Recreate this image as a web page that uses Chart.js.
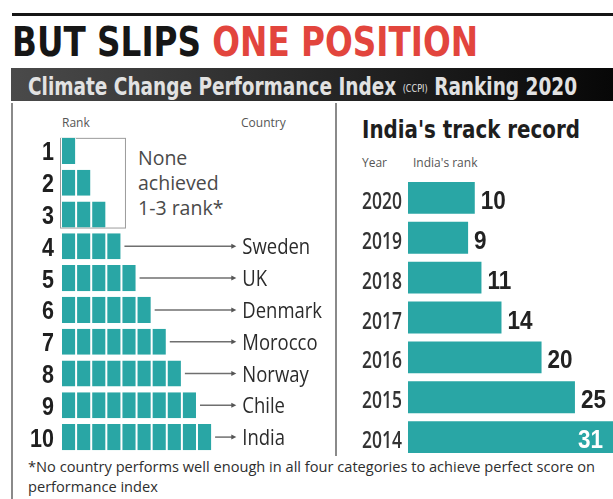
<!DOCTYPE html>
<html>
<head>
<meta charset="utf-8">
<script src="https://cdn.jsdelivr.net/npm/chart.js@4.4.0/dist/chart.umd.min.js"></script>
<style>
  html, body { margin: 0; padding: 0; background: #fff; }
  #wrap { position: relative; width: 613px; height: 499px; overflow: hidden; background: #fff; }
  .abs { position: absolute; white-space: nowrap; line-height: 1; transform-origin: 0 0; }
  .narrow { font-family: "Liberation Sans Narrow", "DejaVu Sans Condensed", sans-serif; }
  .sans { font-family: "Open Sans", "Noto Sans", sans-serif; }
  #topline { left: 12px; top: 13px; width: 601px; height: 3px; background: #151515; }
  #title { left: 12px; top: 22px; font-size: 41px; font-weight: bold; color: #161616; }
  #title span { color: #e2453d; }
  #band { left: 11px; top: 68px; width: 602px; height: 33px;
          background: linear-gradient(90deg, #4a4a4a, #2b2b2b 45%, #070707); }
  #bandText { left: 28px; top: 74px; font-size: 25px; font-weight: bold; color: #e2e2e2; }
  #bandText small { font-size: 11px; font-weight: normal; vertical-align: 3px; }
  .border { position: absolute; background: #8a8a8a; width: 2px; }
  .hdr { font-size: 12px; color: #555; }
  #none { left: 138px; top: 145px; font-size: 19.5px; line-height: 25px; color: #4a4a4a; }
  #track { left: 362px; top: 117px; font-size: 25px; font-weight: bold; color: #1e1e1e; }
  #foot { left: 28px; top: 457px; font-size: 14px; line-height: 20px; color: #2e2e2e; }
  canvas { position: absolute; }
</style>
</head>
<body>
<div id="wrap">
  <div id="topline" class="abs"></div>
  <div id="title" class="abs narrow">BUT SLIPS <span>ONE POSITION</span></div>
  <div id="band" class="abs"></div>
  <div id="bandText" class="abs narrow">Climate Change Performance Index <small>(CCPI)</small> Ranking 2020</div>
  <div class="border" style="left:11px; top:103px; height:396px;"></div>
  <div class="border" style="left:335px; top:103px; height:353px;"></div>

  <div class="abs sans hdr" style="left:62px; top:117px;">Rank</div>
  <div class="abs sans hdr" style="left:241px; top:117px;">Country</div>
  <div id="none" class="abs sans">None<br>achieved<br>1-3 rank*</div>

  <div id="track" class="abs narrow">India's track record</div>
  <div class="abs sans hdr" style="left:362px; top:157px;">Year</div>
  <div class="abs sans hdr" style="left:413px; top:157px;">India's rank</div>

  <div id="foot" class="abs sans"><span id="foot1">*No country performs well enough in all four categories to achieve perfect score on</span><br>performance index</div>

  <canvas id="rankChart" width="336" height="318" style="left:0; top:135px;"></canvas>
  <canvas id="trackChart" width="273" height="279" style="left:340px; top:178px;"></canvas>
</div>

<script>
// CCPI 2020 ranking, ranks 1-3 were left empty
const ranks = [1, 2, 3, 4, 5, 6, 7, 8, 9, 10];
const countries = [null, null, null, "Sweden", "UK", "Denmark", "Morocco", "Norway", "Chile", "India"];

// India's rank by year
const years = ["2020", "2019", "2018", "2017", "2016", "2015", "2014"];
const indiaRank = [10, 9, 11, 14, 20, 25, 31];

const TEAL = "#29a6a5";
const SANS = '"Open Sans", "Noto Sans", sans-serif';
const ARIAL = '"Liberation Sans", Arial, sans-serif';

const fitWidth = (id, w) => {
  const el = document.getElementById(id);
  const r = el.getBoundingClientRect().width;
  el.style.transform = `scaleX(${w / r})`;
};

// squeezed text, baseline at y
const drawText = (ctx, txt, x, y, font, color, sx, align) => {
  ctx.save();
  ctx.translate(x, y);
  ctx.scale(sx, 1);
  ctx.font = font;
  ctx.fillStyle = color;
  ctx.textAlign = align;
  ctx.textBaseline = "alphabetic";
  ctx.fillText(txt, 0, 0);
  ctx.restore();
};

// category axis drawn by hand, no edge padding
const fixedAxis = (w) => (s) => {
  s.width = w;
  s.paddingTop = 0;
  s.paddingBottom = 0;
};

// one stacked dataset per square column
const squareSets = ranks.map((_, k) => ({
  data: ranks.map((r) => (r > k ? 1 : null)),
  backgroundColor: TEAL,
  borderColor: "#ffffff",
  borderWidth: { left: 1, right: 1, top: 0, bottom: 0 },
  borderSkipped: false,
  barPercentage: 0.82,
  categoryPercentage: 1,
}));

const rankDecor = {
  id: "rankDecor",
  beforeDatasetsDraw(chart) {
    const { ctx, scales: { x } } = chart;
    const bars = chart.getDatasetMeta(0).data;
    const h = bars[0].height;
    ctx.save();
    ctx.strokeStyle = "#9c9c9c";
    ctx.lineWidth = 1;
    ctx.strokeRect(
      x.getPixelForValue(0) - 0.5,
      bars[0].y - h / 2 + 0.5,
      x.getPixelForValue(4.3) - x.getPixelForValue(0),
      bars[2].y + h / 2 - (bars[0].y - h / 2)
    );
    ctx.restore();
  },
  afterDatasetsDraw(chart) {
    const { ctx, chartArea, scales: { x, y } } = chart;
    const labelX = x.getPixelForValue(12);
    ranks.forEach((r, i) => {
      drawText(ctx, String(r), chartArea.left - 7, y.getPixelForValue(i) + 9.5,
        `bold 25px ${ARIAL}`, "#1f1f1f", 0.86, "right");
    });
    ctx.save();
    countries.forEach((name, i) => {
      if (!name) return;
      const py = y.getPixelForValue(i);
      const x0 = x.getPixelForValue(ranks[i]) + 3;
      const x1 = labelX - 9;
      ctx.strokeStyle = "#6f6f6f";
      ctx.lineWidth = 1.5;
      ctx.beginPath();
      ctx.moveTo(x0, py);
      ctx.lineTo(x1, py);
      ctx.stroke();
      ctx.fillStyle = "#555";
      ctx.beginPath();
      ctx.moveTo(x1 + 3, py);
      ctx.lineTo(x1 - 2, py - 2.5);
      ctx.lineTo(x1 - 2, py + 2.5);
      ctx.fill();
      drawText(ctx, name, labelX, py + 8, `21px ${SANS}`, "#2b2b2b", 0.88, "left");
    });
    ctx.restore();
  },
};

const trackDecor = {
  id: "trackDecor",
  afterDatasetsDraw(chart) {
    const { ctx, chartArea, scales: { y } } = chart;
    years.forEach((yr, i) => {
      drawText(ctx, yr, chartArea.left - 6, y.getPixelForValue(i) + 11,
        `600 23px ${SANS}`, "#333", 0.76, "right");
    });
    const font = `bold 25px ${ARIAL}`;
    ctx.save();
    ctx.font = font;
    chart.getDatasetMeta(0).data.forEach((bar, i) => {
      const txt = String(indiaRank[i]);
      const w = ctx.measureText(txt).width * 0.9;
      if (bar.x + 5 + w > chartArea.right) {
        drawText(ctx, txt, chartArea.right - 10, bar.y + 11, font, "#ffffff", 0.9, "right");
      } else {
        drawText(ctx, txt, bar.x + 6, bar.y + 11, font, "#222", 0.9, "left");
      }
    });
    ctx.restore();
  },
};

const baseOpts = {
  indexAxis: "y",
  responsive: false,
  maintainAspectRatio: false,
  devicePixelRatio: 1,
  animation: false,
  layout: { padding: 0 },
  plugins: { legend: { display: false }, tooltip: { enabled: false } },
};

new Chart(document.getElementById("rankChart"), {
  type: "bar",
  data: { labels: ranks.map(String), datasets: squareSets },
  options: {
    ...baseOpts,
    scales: {
      x: { stacked: true, display: false, min: 0, max: 18.2 },
      y: {
        stacked: true,
        grid: { display: false, drawTicks: false },
        border: { display: false },
        ticks: { display: false },
        afterFit: fixedAxis(61),
      },
    },
  },
  plugins: [rankDecor],
});

new Chart(document.getElementById("trackChart"), {
  type: "bar",
  data: {
    labels: years,
    datasets: [{ data: indiaRank, backgroundColor: TEAL, barPercentage: 0.8, categoryPercentage: 1 }],
  },
  options: {
    ...baseOpts,
    scales: {
      x: { display: false, min: 0, max: 30.7 },
      y: {
        grid: { display: false, drawTicks: false },
        border: { display: false },
        ticks: { display: false },
        afterFit: fixedAxis(68),
      },
    },
  },
  plugins: [trackDecor],
});

fitWidth("title", 466);
fitWidth("bandText", 549);
fitWidth("track", 218);
const f1 = document.getElementById("foot1").getBoundingClientRect().width;
document.getElementById("foot").style.transform = `scaleX(${567 / f1})`;
</script>
</body>
</html>
